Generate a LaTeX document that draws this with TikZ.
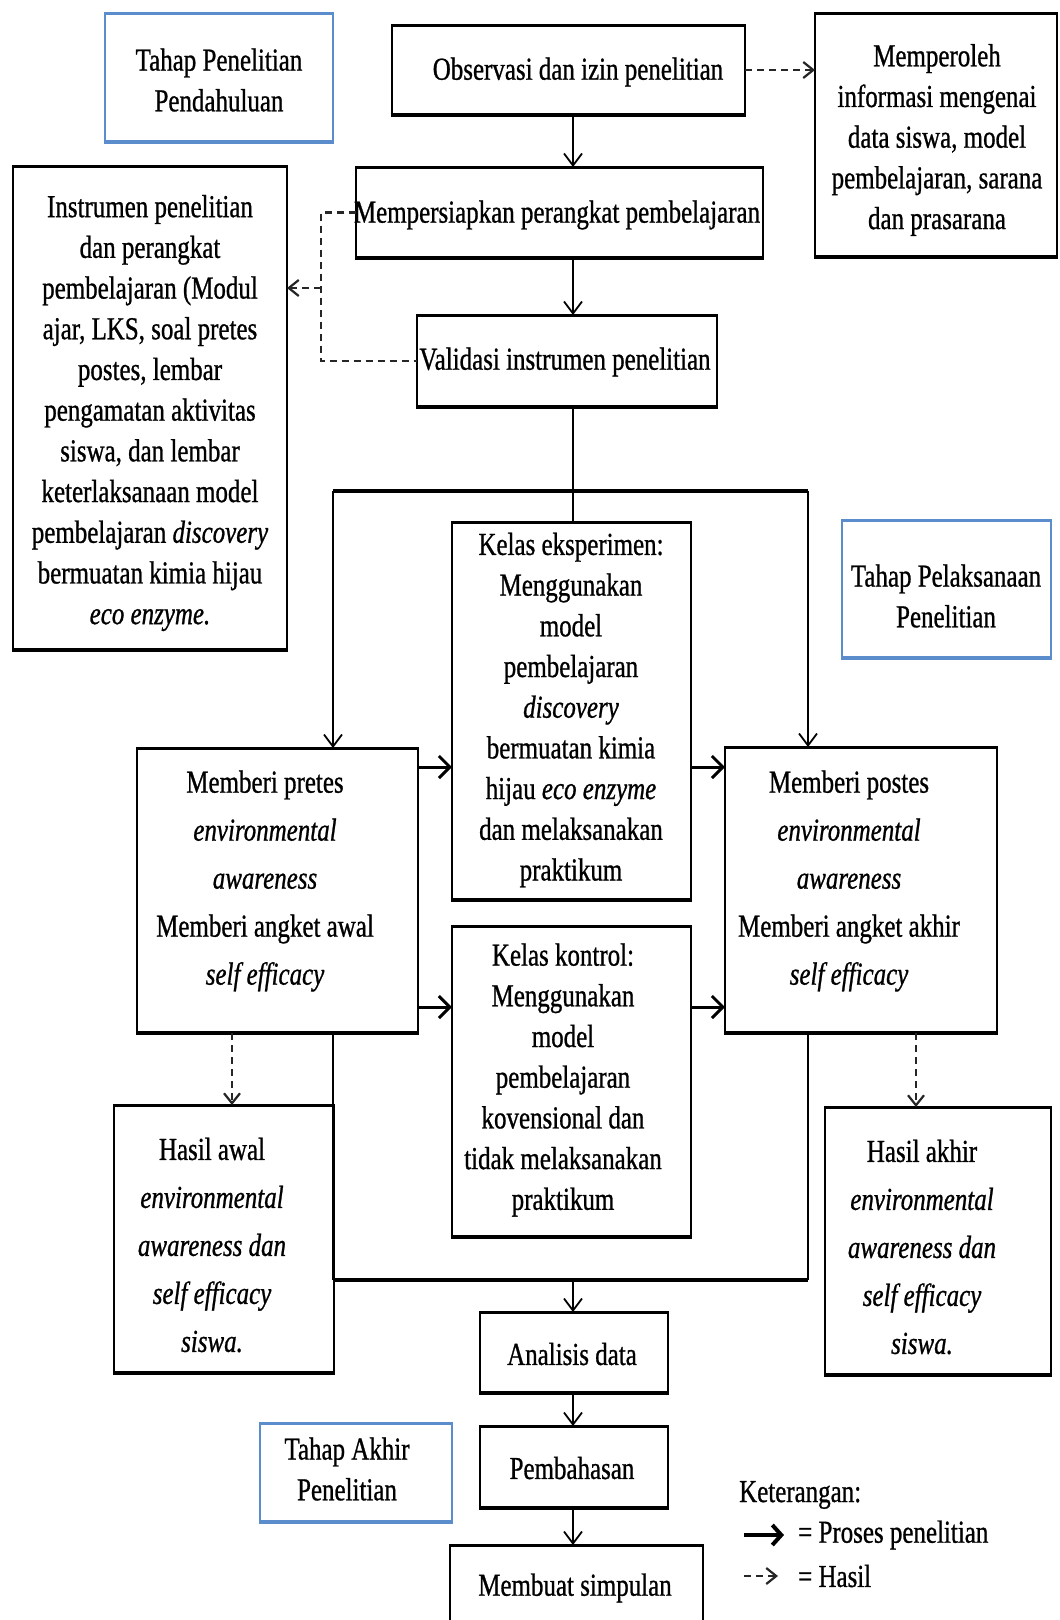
\documentclass[tikz,border=0pt]{standalone}
\usepackage{fontspec}
\setmainfont[FakeStretch=0.78,FakeBold=0.8]{Liberation Serif}
\usetikzlibrary{arrows.meta}
\definecolor{bluebox}{RGB}{91,141,205}
\begin{document}
\begin{tikzpicture}[x=1pt,y=-1pt,
  box/.style={draw, line width=2pt, inner sep=0pt, outer sep=0pt},
  bbox/.style={draw=bluebox, line width=2pt, inner sep=0pt, outer sep=0pt},
  txt/.style={align=center, inner sep=0pt, font=\fontsize{32}{40.7}\selectfont},
  txtw/.style={align=center, inner sep=0pt, font=\fontsize{32}{48}\selectfont},
  flow/.style={line width=1.8pt, -{Straight Barb[length=12pt,width=18pt]}},
  bigflow/.style={line width=3pt, -{Straight Barb[length=11pt,width=22pt]}},
  resline/.style={line width=2.2pt, black!85, dash pattern=on 7pt off 5pt},
  res/.style={resline, -{Straight Barb[length=10pt,width=16pt]}},
  bus/.style={line width=1.8pt},
  hbus/.style={line width=4pt},
]
\path[use as bounding box] (0,0) rectangle (1060,1620);
\clip (0,0) rectangle (1060,1620);
\fill[white] (0,0) rectangle (1060,1620);

% boxes
\node[bbox, minimum width=228pt, minimum height=129pt] (b1) at (219,77.5) {};
\node[box, minimum width=353pt, minimum height=90pt] (obs) at (568.5,70) {};
\node[box, minimum width=242pt, minimum height=244pt] (mem) at (936,135) {};
\node[box, minimum width=407pt, minimum height=91pt] (prep) at (559.5,212.5) {};
\node[box, minimum width=300pt, minimum height=92pt] (val) at (567,361) {};
\node[box, minimum width=274pt, minimum height=484pt] (ins) at (150,408) {};
\node[box, minimum width=239pt, minimum height=378pt] (eks) at (571.5,711) {};
\node[bbox, minimum width=209pt, minimum height=138pt] (b2) at (946.5,589) {};
\node[box, minimum width=281pt, minimum height=285pt] (pre) at (277.5,890.5) {};
\node[box, minimum width=272pt, minimum height=286pt] (post) at (861,890) {};
\node[box, minimum width=239pt, minimum height=311pt] (kon) at (571.5,1081.5) {};
\node[box, minimum width=220pt, minimum height=268pt] (ha) at (224,1239) {};
\node[box, minimum width=226pt, minimum height=268pt] (hk) at (938,1241) {};
\node[box, minimum width=188pt, minimum height=81pt] (ana) at (574,1352.5) {};
\node[box, minimum width=188pt, minimum height=82pt] (pem) at (574,1467) {};
\node[box, minimum width=253pt, minimum height=115pt] (sim) at (576.5,1602.5) {};
\node[bbox, minimum width=192pt, minimum height=99pt] (b3) at (356,1472.5) {};

\foreach \n in {obs,mem,prep,val,ins,eks,pre,post,kon,ha,hk,ana,pem,sim} {
  \draw[line width=3pt, shorten <=-1pt, shorten >=-1pt] (\n.north west) -- (\n.north east);
  \draw[line width=4.5pt, shorten <=-1pt, shorten >=-1pt] (\n.south west) -- (\n.south east);
}
\foreach \n in {b1,b2,b3} {
  \draw[bluebox, line width=3pt, shorten <=-1pt, shorten >=-1pt] (\n.north west) -- (\n.north east);
  \draw[bluebox, line width=3.5pt, shorten <=-1pt, shorten >=-1pt] (\n.south west) -- (\n.south east);
}

% texts
\node[txt] (tb1) at (219,80) {Tahap Penelitian\\Pendahuluan};
\node[txt] (tobs) at (578,72) {Observasi dan izin penelitian};
\node[txt] (tmem) at (937,140) {Memperoleh\\informasi mengenai\\data siswa, model\\pembelajaran, sarana\\dan prasarana};
\node[txt] (tprep) at (557,215) {Mempersiapkan perangkat pembelajaran};
\node[txt] (tval) at (565,362) {Validasi instrumen penelitian};
\node[txt] (tins) at (150,413) {Instrumen penelitian\\dan perangkat\\pembelajaran (Modul\\ajar, LKS, soal pretes\\postes, lembar\\pengamatan aktivitas\\siswa, dan lembar\\keterlaksanaan model\\pembelajaran \textit{discovery}\\bermuatan kimia hijau\\\textit{eco enzyme.}};
\node[txt] (teks) at (571,710) {Kelas eksperimen:\\Menggunakan\\model\\pembelajaran\\\textit{discovery}\\bermuatan kimia\\hijau \textit{eco enzyme}\\dan melaksanakan\\praktikum};
\node[txt] (tb2) at (946,596) {Tahap Pelaksanaan\\Penelitian};
\node[txtw] (tpre) at (265,881) {Memberi pretes\\\textit{environmental}\\\textit{awareness}\\Memberi angket awal\\\textit{self efficacy}};
\node[txtw] (tpost) at (849,881) {Memberi postes\\\textit{environmental}\\\textit{awareness}\\Memberi angket akhir\\\textit{self efficacy}};
\node[txt] (tkon) at (563,1080) {Kelas kontrol:\\Menggunakan\\model\\pembelajaran\\kovensional dan\\tidak melaksanakan\\praktikum};
\node[txtw] (tha) at (212,1245) {Hasil awal\\\textit{environmental}\\\textit{awareness dan}\\\textit{self efficacy}\\\textit{siswa.}};
\node[txtw] (thk) at (922,1247) {Hasil akhir\\\textit{environmental}\\\textit{awareness dan}\\\textit{self efficacy}\\\textit{siswa.}};
\node[txt] (tana) at (572,1354) {Analisis data};
\node[txt] (tpem) at (572,1468) {Pembahasan};
\node[txt] (tsim) at (575,1588) {Membuat simpulan};
\node[txt] (tb3) at (347,1469) {Tahap Akhir\\Penelitian};

% connectors
\coordinate (ax) at (573,0);
\coordinate (L) at (333,491);
\coordinate (R) at (808,491);
\coordinate (dv) at (321,0);
\coordinate (di) at (321,288);
\coordinate (LB) at (333,1280);
\coordinate (RB) at (808,1280);
\coordinate (MB) at (573,1280);
\coordinate (dl) at (232,0);
\coordinate (dr) at (916,0);

\draw[res] (obs.east) -- (mem.west |- obs.east);
\draw[flow] (obs.south -| ax) -- (prep.north -| ax);
\draw[flow] (prep.south -| ax) -- (val.north -| ax);
\draw[bus] (val.south -| ax) -- (eks.north -| ax);
\draw[hbus] (L) -- (R);
\draw[flow] (L) -- (pre.north -| L);
\draw[flow] (R) -- (post.north -| R);

\draw[resline] (prep.west) -- (prep.west -| dv) -- (val.west -| dv) -- (val.west);
\draw[res] (di) -- (ins.east |- di);

\draw[bigflow] (pre.east |- 0,767) -- (eks.west |- 0,767);
\draw[bigflow] (eks.east |- 0,767) -- (post.west |- 0,767);
\draw[bigflow] (pre.east |- 0,1007) -- (kon.west |- 0,1007);
\draw[bigflow] (kon.east |- 0,1007) -- (post.west |- 0,1007);

\draw[res] (pre.south -| dl) -- (ha.north -| dl);
\draw[res] (post.south -| dr) -- (hk.north -| dr);

\draw[bus] (pre.south -| LB) -- (LB);
\draw[bus] (post.south -| RB) -- (RB);
\draw[hbus] (LB) -- (RB);
\draw[flow] (MB) -- (ana.north -| ax);
\draw[flow] (ana.south -| ax) -- (pem.north -| ax);
\draw[flow] (pem.south -| ax) -- (sim.north -| ax);

% legend
\coordinate (la1) at (744,1535);
\coordinate (la2) at (784,1535);
\coordinate (lb1) at (744,1576);
\coordinate (lb2) at (778,1576);
\node[txt, anchor=west] (ket) at (739,1495) {Keterangan:};
\draw[line width=4pt, -{Straight Barb[length=9pt,width=20pt]}] (la1) -- (la2);
\node[txt, anchor=west] (lp) at (798,1535) {= Proses penelitian};
\draw[res] (lb1) -- (lb2);
\node[txt, anchor=west] (lh) at (798,1576) {= Hasil};
\end{tikzpicture}
\end{document}
